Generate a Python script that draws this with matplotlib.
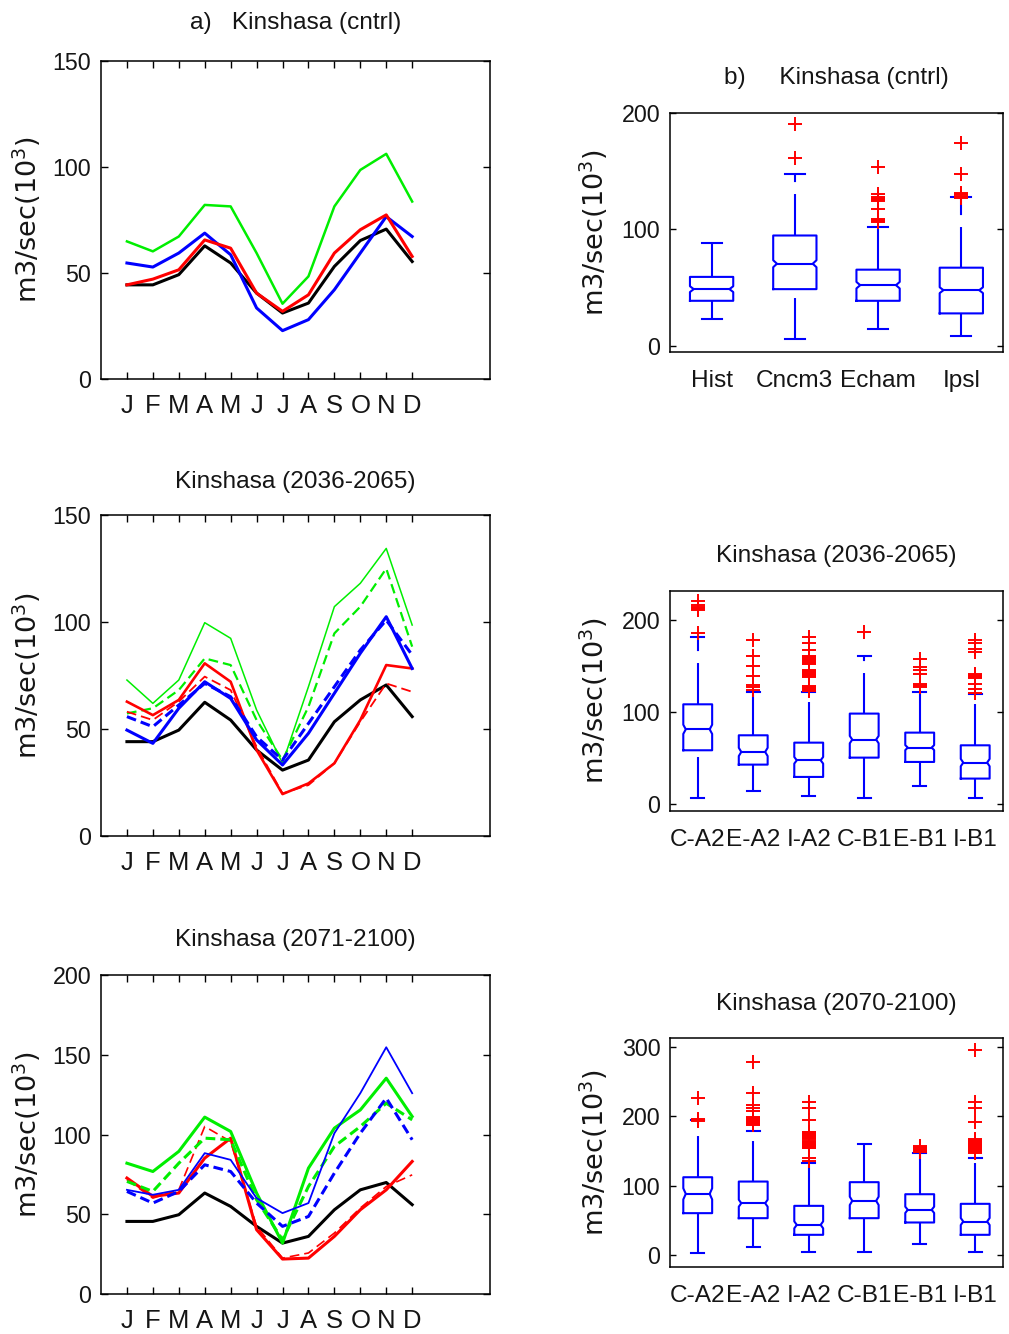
import numpy as np
import matplotlib
matplotlib.use('Agg')
import matplotlib.pyplot as plt
from matplotlib import font_manager

# ---- monthly flow curves (m3/s x 10^3) ----
months = ['J', 'F', 'M', 'A', 'M', 'J', 'J', 'A', 'S', 'O', 'N', 'D']

# a) control period
ctl_k = [44.4, 44.4, 49.2, 62.8, 54.7, 40.5, 31.1, 35.8, 53.1, 65.3, 70.7, 55.4]
ctl_r = [44.4, 47.1, 51.5, 65.6, 61.7, 40.5, 31.9, 39.7, 59.4, 70.4, 77.4, 57.8]
ctl_b = [54.7, 52.8, 59.4, 68.8, 58.6, 33.5, 22.8, 28.0, 42.1, 59.4, 76.6, 67.2]
ctl_g = [64.9, 60.2, 67.2, 82.1, 81.4, 59.4, 35.5, 48.4, 81.4, 98.6, 106.2, 83.7]

# 2036-2065
mid_k = [44.1, 44.1, 49.5, 62.5, 54.2, 40.2, 30.8, 35.5, 53.4, 63.6, 70.6, 55.8]
mid_g = [72.9, 62.0, 72.9, 99.7, 92.4, 58.9, 34.0, 69.8, 107.2, 118.1, 134.4, 98.6]
mid_g_dash = [57.3, 59.7, 68.2, 83.0, 79.9, 54.2, 35.5, 60.4, 94.7, 107.2, 125.0, 88.5]
mid_r = [62.8, 56.5, 63.6, 80.7, 72.1, 40.2, 19.6, 24.6, 34.0, 54.2, 79.9, 78.3]
mid_r_dash = [58.1, 54.2, 62.8, 74.5, 68.2, 41.7, 19.9, 23.8, 34.0, 53.4, 71.3, 67.4]
mid_b = [49.5, 43.3, 59.7, 72.1, 64.3, 44.9, 33.2, 48.0, 66.7, 85.4, 102.5, 78.3]
mid_b_dash = [55.8, 51.1, 61.2, 71.3, 65.1, 46.4, 35.5, 52.6, 69.8, 86.9, 100.9, 84.6]

# 2071-2100
end_k = [45.5, 45.5, 49.7, 63.3, 54.9, 42.4, 31.9, 36.1, 52.8, 65.3, 69.9, 56.0]
end_r = [72.7, 61.2, 63.3, 85.2, 97.7, 40.3, 21.9, 22.5, 36.1, 52.8, 65.3, 83.1]
end_r_dash = [71.6, 60.1, 65.3, 105.0, 95.6, 42.4, 22.5, 25.7, 38.2, 53.9, 67.4, 74.7]
end_g = [82.0, 76.8, 89.4, 110.9, 101.9, 63.3, 31.9, 78.9, 104.0, 115.4, 135.3, 111.3]
end_g_dash = [70.6, 64.3, 82.0, 97.7, 96.7, 59.1, 34.0, 67.4, 92.5, 105.0, 119.6, 109.2]
end_b = [65.3, 62.2, 65.3, 88.3, 84.1, 60.1, 50.7, 57.0, 100.8, 125.9, 154.7, 125.9]
end_b_dash = [64.3, 57.0, 64.3, 81.0, 76.8, 57.0, 42.4, 48.6, 75.8, 100.8, 122.8, 96.7]

# ---- box plot statistics ----
# b) control
ctl_names = ['Hist', 'Cncm3', 'Echam', 'Ipsl']
ctl_lo = [22.7, 6.2, 14.2, 8.5]
ctl_q1 = [38.6, 48.6, 38.6, 27.8]
ctl_med = [48.6, 70.4, 52.0, 47.7]
ctl_q3 = [59.1, 94.6, 65.3, 67.0]
ctl_hi = [88.1, 147.2, 102.0, 127.3]
ctl_ci = [2.5, 3.0, 2.8, 2.5]
ctl_out = [[],
           [161, 190],
           [106, 107, 108, 109, 117, 124, 125, 126, 127, 128, 130, 153],
           [127, 128, 129, 130, 131, 147, 174]]

scen_names = ['C-A2', 'E-A2', 'I-A2', 'C-B1', 'E-B1', 'I-B1']

# 2036-2065
mid_lo = [7.2, 14.5, 9.1, 7.2, 19.6, 7.2]
mid_q1 = [58.7, 43.1, 29.7, 50.7, 46.0, 27.9]
mid_med = [81.5, 56.9, 47.8, 70.3, 61.6, 45.3]
mid_q3 = [108.7, 75.0, 67.0, 98.6, 77.9, 64.1]
mid_hi = [181.9, 122.1, 122.1, 160.9, 122.1, 119.6]
mid_ci = [5.0, 4.5, 3.6, 4.0, 2.7, 4.0]
mid_out = [[186, 211, 212, 213, 214, 215, 217, 221],
           [124, 128, 130, 140, 150, 161, 179],
           [123, 124, 125, 126, 127, 128, 129, 138, 139, 140, 141, 142, 143, 144,
            145, 146, 153, 154, 155, 156, 157, 158, 159, 160, 161, 168, 175, 182],
           [187],
           [128, 129, 130, 131, 142, 146, 149, 158],
           [121, 125, 131, 137, 138, 139, 140, 141, 142, 166, 169, 175, 179]]

# 2070-2100
end_lo = [2.9, 12.9, 5.7, 5.7, 16.3, 5.7]
end_q1 = [60.8, 53.6, 29.7, 53.6, 47.4, 29.7]
end_med = [88.5, 75.1, 44.0, 78.5, 65.6, 48.8]
end_q3 = [112.4, 106.2, 71.3, 105.3, 88.0, 74.2]
end_hi = [194.7, 179.0, 133.5, 160.3, 147.8, 140.7]
end_ci = [8.0, 5.0, 5.0, 6.0, 4.5, 5.0]
end_out = [[193, 194, 195, 196, 226],
           [188, 189, 190, 191, 192, 193, 194, 195, 196, 197, 198, 199, 208, 212,
            216, 233, 278],
           [135, 140, 154, 155, 156, 157, 158, 159, 160, 161, 162, 163, 164, 168,
            169, 170, 171, 172, 173, 174, 175, 176, 177, 178, 195, 212, 220],
           [],
           [149, 150, 151, 152, 153, 154, 155, 156, 157],
           [147, 148, 150, 151, 153, 154, 156, 157, 159, 160, 162, 163, 165, 166,
            168, 192, 212, 220, 295]]

# ---- fonts ----
names = {f.name for f in font_manager.fontManager.ttflist}
if 'Liberation Sans Narrow' in names:
    FONT, k = 'Liberation Sans Narrow', 1.0
else:
    FONT, k = 'Liberation Sans', 0.88
plt.rcParams['font.family'] = [FONT, 'DejaVu Sans']
plt.rcParams['lines.scale_dashes'] = False
plt.rcParams['axes.linewidth'] = 1.1

TXT = '#151515'
YLAB = 'm3/sec(10$^3$)'

fig = plt.figure(figsize=(10.09, 13.34), dpi=100)


def title(ax, s, dy=25):
    ax.annotate(s, xy=(0.5, 1), xycoords='axes fraction', xytext=(0, dy),
                textcoords='offset points', ha='center', va='center',
                fontsize=20 * k, color=TXT)


def ylabel(ax, xpos):
    ax.set_ylabel(YLAB, fontsize=19.5, family='DejaVu Sans', color=TXT)
    ax.yaxis.set_label_coords(xpos, 0.5)


def line_panel(rect, series, ymax, ttl, tdy):
    ax = fig.add_axes(rect)
    x = np.arange(1, 13)
    for vals, col, lw, dashed in series:
        if dashed:
            ax.plot(x, vals, color=col, lw=lw, dashes=(7, 3.6))
        else:
            ax.plot(x, vals, color=col, lw=lw)
    ax.set_xlim(0, 15)
    ax.set_ylim(0, ymax)
    ax.set_xticks(x)
    ax.set_xticklabels(months)
    ax.set_yticks(np.arange(0, ymax + 1, 50))
    ax.tick_params(axis='both', direction='in', top=True, right=True,
                   length=5, width=1, colors='black', labelcolor=TXT)
    ax.tick_params(axis='x', labelsize=21 * k, pad=11)
    ax.tick_params(axis='y', labelsize=19 * k, pad=7)
    ylabel(ax, -0.148)
    title(ax, ttl, tdy)
    return ax


def box_panel(rect, labels, lo, q1, med, q3, hi, ci, out, ylim, ticks, ttl):
    ax = fig.add_axes(rect)
    hw, nw, cw = 0.26, 0.215, 0.12
    for i in range(len(med)):
        x = i + 1
        bx = [x - hw, x + hw, x + hw, x + nw, x + hw, x + hw,
              x - hw, x - hw, x - nw, x - hw, x - hw]
        by = [q1[i], q1[i], med[i] - ci[i], med[i], med[i] + ci[i], q3[i],
              q3[i], med[i] + ci[i], med[i], med[i] - ci[i], q1[i]]
        ax.plot(bx, by, color='#0000ff', lw=1.5)
        ax.plot([x - nw, x + nw], [med[i], med[i]], color='#0000ff', lw=1.5)
        ax.plot([x, x], [lo[i], q1[i]], color='#0000ff', lw=1.5, dashes=(29.5, 8.6))
        ax.plot([x, x], [q3[i], hi[i]], color='#0000ff', lw=1.5, dashes=(29.5, 8.6))
        ax.plot([x - cw, x + cw], [lo[i], lo[i]], color='#0000ff', lw=1.5)
        ax.plot([x - cw, x + cw], [hi[i], hi[i]], color='#0000ff', lw=1.5)
        if out[i]:
            ax.plot([x] * len(out[i]), out[i], '+', color='#ff0000',
                    ms=10, mew=1.4)
    ax.set_xlim(0.5, len(med) + 0.5)
    ax.set_ylim(*ylim)
    ax.set_xticks(np.arange(1, len(med) + 1))
    ax.set_xticklabels(labels)
    ax.set_yticks(ticks)
    ax.tick_params(axis='y', direction='in', right=True, length=4, width=1,
                   labelsize=19 * k, pad=7, labelcolor=TXT)
    ax.tick_params(axis='x', length=0, labelsize=20 * k, pad=13, labelcolor=TXT)
    ylabel(ax, -0.18)
    title(ax, ttl, 25)
    return ax


K, R, G, B = 'black', '#ff0000', '#00ee00', '#0000ff'

line_panel([0.1001, 0.7159, 0.3855, 0.2384],
           [(ctl_k, K, 2.2, False), (ctl_g, G, 1.8, False),
            (ctl_b, B, 2.2, False), (ctl_r, R, 2.2, False)],
           150, 'a)   Kinshasa (cntrl)', 27)

line_panel([0.1001, 0.3733, 0.3855, 0.2406],
           [(mid_k, K, 2.2, False), (mid_g, G, 1.1, False),
            (mid_g_dash, G, 1.6, True), (mid_r, R, 1.9, False),
            (mid_r_dash, R, 1.3, True), (mid_b, B, 2.2, False),
            (mid_b_dash, B, 2.2, True)],
           150, 'Kinshasa (2036-2065)', 24)

line_panel([0.1001, 0.0300, 0.3855, 0.2391],
           [(end_k, K, 2.2, False), (end_r, R, 2.2, False),
            (end_r_dash, R, 1.2, True), (end_g, G, 2.2, False),
            (end_g_dash, G, 2.2, True), (end_b, B, 1.3, False),
            (end_b_dash, B, 2.2, True)],
           200, 'Kinshasa (2071-2100)', 25)

box_panel([0.664, 0.7364, 0.330, 0.1792], ctl_names, ctl_lo, ctl_q1, ctl_med,
          ctl_q3, ctl_hi, ctl_ci, ctl_out, (-5, 200), [0, 100, 200],
          'b)     Kinshasa (cntrl)')

box_panel([0.664, 0.3923, 0.330, 0.1647], scen_names, mid_lo, mid_q1, mid_med,
          mid_q3, mid_hi, mid_ci, mid_out, (-7, 232), [0, 100, 200],
          'Kinshasa (2036-2065)')

box_panel([0.664, 0.0505, 0.330, 0.1712], scen_names, end_lo, end_q1, end_med,
          end_q3, end_hi, end_ci, end_out, (-16, 312), [0, 100, 200, 300],
          'Kinshasa (2070-2100)')

fig.savefig('out.png', dpi=100)
